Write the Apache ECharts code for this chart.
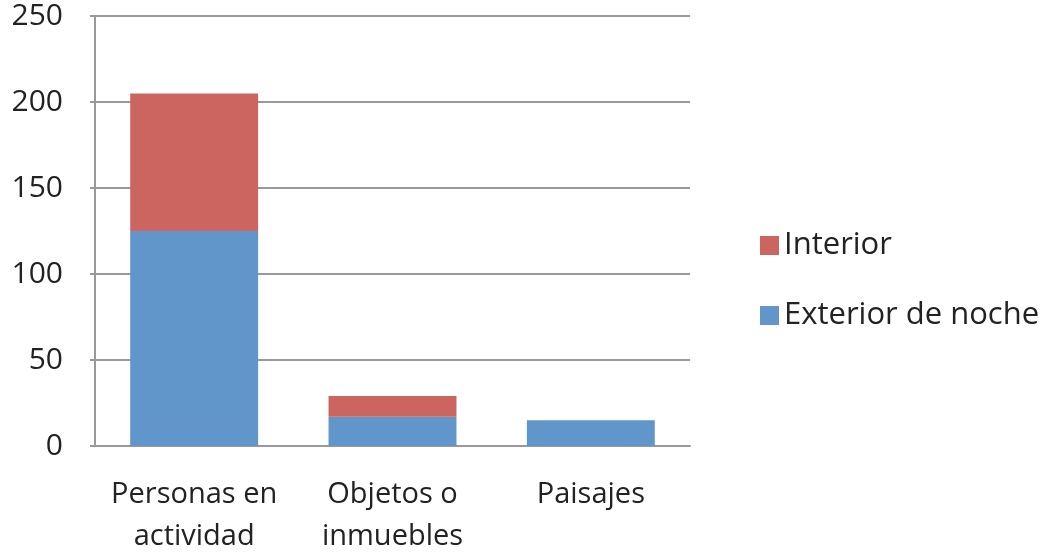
<!DOCTYPE html>
<html>
<head>
<meta charset="utf-8">
<script src="https://cdn.jsdelivr.net/npm/echarts@6/dist/echarts.min.js"></script>
<style>
  html, body { margin: 0; padding: 0; background: #fff; }
  #chart { width: 1050px; height: 555px; }
</style>
</head>
<body>
<div id="chart"></div>
<script>
const categories = ['Personas en\nactividad', 'Objetos o\ninmuebles', 'Paisajes']
const exteriorNoche = [125, 17, 15]
const interior = [80, 12, 0]
const yTicks = { min: 0, max: 250, interval: 50 }

const font = '"Open Sans", "Liberation Sans", sans-serif'
const chart = echarts.init(document.getElementById('chart'))

const option = {
    animation: false,
    grid: { left: 95, right: 360, top: 16, bottom: 109, outerBoundsMode: 'none' },
    legend: {
        orient: 'vertical',
        left: 755,
        top: 225,
        itemWidth: 19,
        itemHeight: 19,
        itemGap: 39,
        icon: 'rect',
        data: ['Interior', 'Exterior de noche'],
        textStyle: { fontFamily: font, fontSize: 31, color: '#222' }
    },
    xAxis: {
        type: 'category',
        data: categories,
        axisLine: { lineStyle: { color: '#999', width: 2 } },
        axisTick: { show: false },
        axisLabel: {
            fontFamily: font, fontSize: 29, color: '#222',
            margin: 28, lineHeight: 42, interval: 0
        }
    },
    yAxis: {
        type: 'value',
        min: yTicks.min,
        max: yTicks.max,
        interval: yTicks.interval,
        axisLine: { show: true, lineStyle: { color: '#999', width: 2 } },
        axisTick: { show: true, length: 5, lineStyle: { color: '#999', width: 2 } },
        splitLine: { lineStyle: { color: '#999', width: 2 } },
        axisLabel: { fontFamily: font, fontSize: 30, color: '#222', margin: 32, padding: [8, 0, 0, 0] }
    },
    series: [
        {
            name: 'Exterior de noche',
            type: 'bar',
            stack: 'total',
            data: exteriorNoche,
            barWidth: '64.5%',
            itemStyle: { color: '#6096c9' }
        },
        {
            name: 'Interior',
            type: 'bar',
            stack: 'total',
            data: interior,
            itemStyle: { color: '#cc655f' }
        }
    ]
}

chart.setOption(option)
</script>
</body>
</html>
